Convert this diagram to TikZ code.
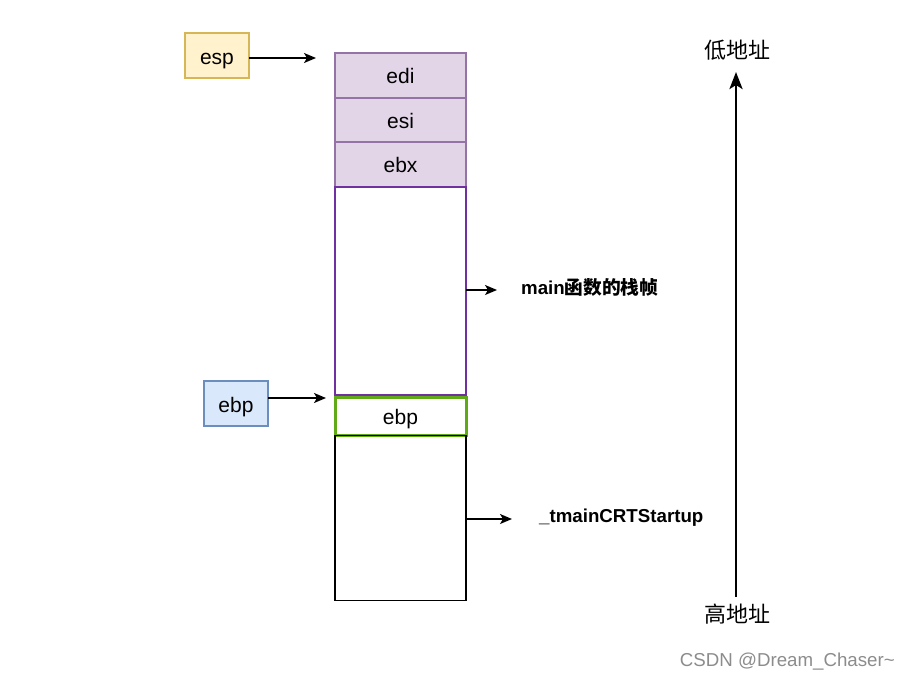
\documentclass[tikz,border=0pt]{standalone}
\usepackage{fontspec}
\setmainfont{Liberation Sans}
\newfontfamily\cjk{Noto Sans CJK SC}
\usetikzlibrary{arrows.meta,positioning}
\definecolor{cEsp}{HTML}{FFF2CC}
\definecolor{cEspEdge}{HTML}{D6B656}
\definecolor{cEbp}{HTML}{DAE8FC}
\definecolor{cEbpEdge}{HTML}{6C8EBF}
\definecolor{cReg}{HTML}{E1D5E7}
\definecolor{cRegEdge}{HTML}{9673A6}
\definecolor{cFrame}{HTML}{7030A0}
\definecolor{cSaved}{HTML}{60A917}

\begin{document}
\begin{tikzpicture}[
  x=1pt, y=-1pt,
  font=\fontsize{21}{25}\selectfont,
  >={Stealth[length=12pt,width=10pt,inset=3pt]},
  cell/.style={draw, outer sep=0pt, inner sep=0pt, minimum width=131pt,
               text height=16pt, text depth=0pt},
  reg/.style={cell, draw=cRegEdge, fill=cReg, line width=1.4pt},
  ptr/.style={draw, outer sep=0pt, inner sep=0pt, minimum width=64pt, minimum height=45pt,
              line width=1.4pt, text height=18pt, text depth=0pt},
  lbl/.style={font=\fontsize{18.7}{22}\selectfont\bfseries, inner sep=0pt},
  flow/.style={->, line width=1.5pt},
]
\useasboundingbox (0,0) rectangle (910,681);

% ---- the stack ----
\node[reg, minimum height=45pt] (edi) at (400.5,75.5) {edi};
\node[reg, minimum height=44pt, below=0pt of edi] (esi) {esi};
\node[reg, minimum height=45pt, below=0pt of esi] (ebx) {ebx};
\node[cell, draw=cFrame, line width=1.4pt, minimum height=208pt, below=0pt of ebx] (frame) {};
\node[cell, draw=cSaved, line width=3pt, minimum height=38pt, below=2.5pt of frame] (saved) {ebp};
\node[cell, line width=1.4pt, minimum height=165pt, below=0pt of saved] (crt) {};

% ---- pointers ----
\node[ptr, draw=cEspEdge, fill=cEsp] (esp) at (217,55.5) {esp};
\node[ptr, draw=cEbpEdge, fill=cEbp] (ebp) at (236,403.5) {ebp};
\coordinate (espTip) at (316,58);
\coordinate (ebpTip) at (326,398);
\draw[flow] (esp.east |- espTip) -- (espTip);
\draw[flow] (ebp.east |- ebpTip) -- (ebpTip);

% ---- frame labels ----
\coordinate (frameTip) at (497,290);
\coordinate (crtTip) at (512,519);
\draw[flow] (frame.east |- frameTip) -- (frameTip);
\draw[flow] (crt.east |- crtTip) -- (crtTip);
\node[lbl, anchor=west] (frameLbl) at (521,287) {main{\cjk\bfseries 函数的栈帧}};
\node[lbl, anchor=west] (crtLbl) at (539,518) {\_tmainCRTStartup};

% ---- address direction ----
\node[inner sep=0pt, font=\cjk\fontsize{22}{26}\selectfont] (lo) at (737,50) {低地址};
\node[inner sep=0pt, font=\cjk\fontsize{22}{26}\selectfont] (hi) at (737,614) {高地址};
\coordinate (hiEnd) at (736,597);
\coordinate (loEnd) at (736,72);
\draw[->, line width=2.8pt, >={Stealth[length=17pt,width=13pt,inset=4pt]}] (hiEnd) -- (loEnd);

% watermark
\node[anchor=east, text=black!45, font=\fontsize{18.7}{22}\selectfont, inner sep=0pt] (mark) at (895,662) {CSDN @Dream\_Chaser\textasciitilde};
\end{tikzpicture}
\end{document}
